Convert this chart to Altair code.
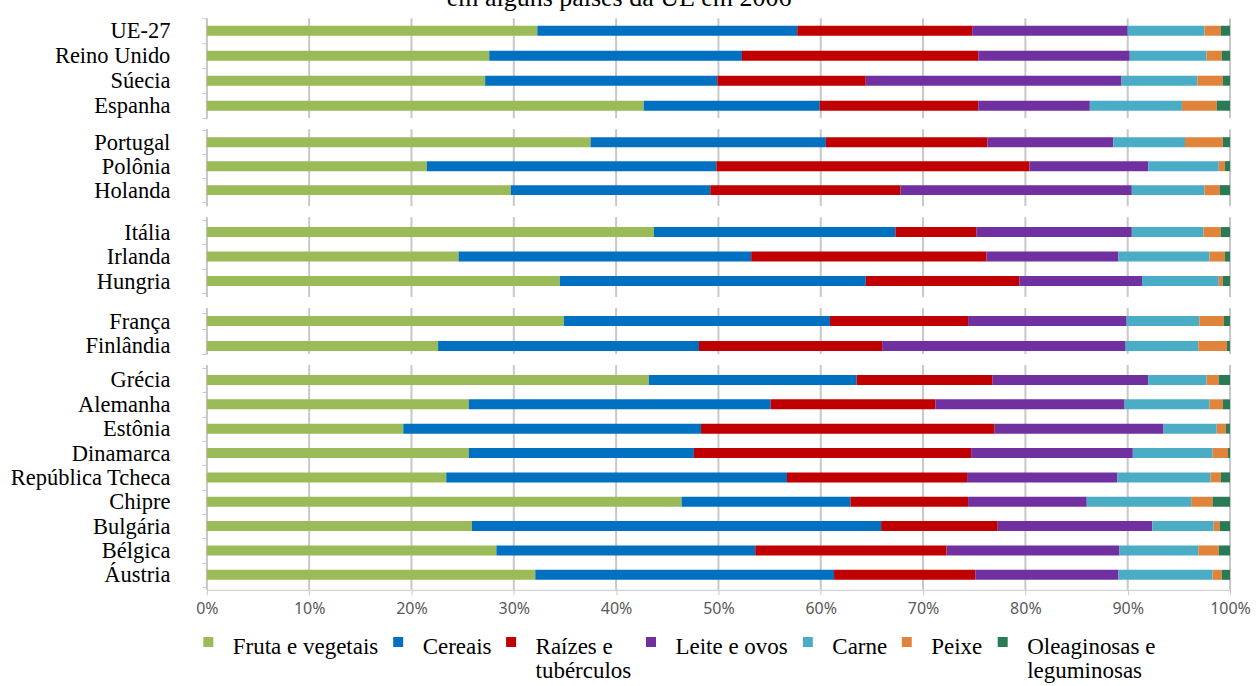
import altair as alt
import pandas as pd

# Countries, in display order, split into the five blocks drawn as separate panels
countries = [
    "UE-27", "Reino Unido", "Súecia", "Espanha",
    "Portugal", "Polônia", "Holanda",
    "Itália", "Irlanda", "Hungria",
    "França", "Finlândia",
    "Grécia", "Alemanha", "Estônia", "Dinamarca", "República Tcheca",
    "Chipre", "Bulgária", "Bélgica", "Áustria",
]
block_sizes = [4, 3, 3, 2, 9]

# Panel heights and band-scale spacing of each block
block_heights = [100, 77, 80, 46, 225]
band_pad_outer = [0, 0.104, 0.133, 0.1, 0.115]
band_pad_inner = [0, 0, 0, 0.36, 0]
band_align = [0.5, 0.2, 0.42, 1.0, 0.5]

categories = [
    "Fruta e vegetais", "Cereais", "Raízes e tubérculos", "Leite e ovos",
    "Carne", "Peixe", "Oleaginosas e leguminosas",
]
colors = ["#9BBB59", "#0070C0", "#C00000", "#7030A0", "#4BACC6", "#E0843C", "#2A7A55"]

# Share (%) of each food group, one value per country in the order above
fruta = [32.3, 27.6, 27.2, 42.7, 37.5, 21.5, 29.7, 43.7, 24.6, 34.5, 34.9, 22.6,
         43.2, 25.6, 19.2, 25.6, 23.4, 46.4, 25.9, 28.3, 32.1]
cereais = [25.4, 24.7, 22.7, 17.2, 23.0, 28.3, 19.5, 23.6, 28.6, 29.9, 26.0, 25.5,
           20.3, 29.5, 29.1, 22.0, 33.3, 16.5, 40.0, 25.3, 29.2]
raizes = [17.1, 23.1, 14.5, 15.5, 15.8, 30.6, 18.6, 7.9, 23.0, 15.0, 13.5, 17.9,
          13.3, 16.1, 28.7, 27.1, 17.6, 11.5, 11.4, 18.7, 13.8]
leite = [15.2, 14.8, 25.0, 10.9, 12.3, 11.6, 22.6, 15.2, 12.9, 12.0, 15.5, 23.8,
         15.2, 18.5, 16.5, 15.8, 14.7, 11.6, 15.1, 16.9, 14.0]
carne = [7.5, 7.5, 7.4, 9.0, 7.0, 6.9, 7.1, 7.0, 8.9, 7.5, 7.1, 7.1,
         5.7, 8.3, 5.2, 7.8, 9.1, 10.2, 6.0, 7.7, 9.2]
peixe = [1.6, 1.5, 2.5, 3.4, 3.7, 0.6, 1.5, 1.7, 1.5, 0.4, 2.4, 2.8,
         1.2, 1.3, 0.9, 1.5, 1.0, 2.1, 0.6, 2.0, 0.9]
oleaginosas = [0.9, 0.8, 0.7, 1.3, 0.7, 0.5, 1.0, 0.9, 0.5, 0.7, 0.6, 0.3,
               1.1, 0.7, 0.4, 0.2, 0.9, 1.7, 1.0, 1.1, 0.8]

series = [fruta, cereais, raizes, leite, carne, peixe, oleaginosas]

# Gridline positions along the share axis
grid_ticks = [i / 10 for i in range(11)]

rows = []
for ci, (cat, vals) in enumerate(zip(categories, series)):
    for country, v in zip(countries, vals):
        rows.append({"country": country, "category": cat, "cat_idx": ci, "share": v})
df = pd.DataFrame(rows)
grid_df = pd.DataFrame({"t": grid_ticks})

SERIF = "Liberation Serif"
GRID = "#c8c8c8"
AXIS = "#c8c8c8"

legend = alt.Legend(
    title=None,
    orient="none",
    legendX=-10,
    legendY=259,
    direction="horizontal",
    columns=7,
    columnPadding=8,
    symbolType="M-1,0.3H1V2.3H-1Z",
    symbolSize=100,
    symbolStrokeWidth=0,
    labelFont=SERIF,
    labelFontSize=23,
    labelColor="#000000",
    labelBaseline="top",
    labelOffset=13,
    labelLimit=400,
    labelExpr=(
        "datum.label == 'Raízes e tubérculos' ? ['Raízes e', 'tubérculos'] : "
        "datum.label == 'Oleaginosas e leguminosas' ? ['Oleaginosas e', 'leguminosas'] : "
        "[datum.label, '']"
    ),
)

x_scale = alt.Scale(domain=[0, 1], nice=False, padding=0)


def block(names, height, p_outer, p_inner, align, last):
    sub = df[df["country"].isin(names)]
    if last:
        x_axis = alt.Axis(
            values=grid_ticks, format=".0%", grid=False, domainColor=AXIS,
            tickColor=AXIS, tickSize=5, labelFont="Noto Sans", labelFontSize=16,
            labelColor="#595959", labelPadding=6, labelFlush=False, title=None,
        )
    else:
        x_axis = None
    y_scale = alt.Scale(paddingInner=p_inner, paddingOuter=p_outer, align=align)

    # vertical gridlines, drawn as thin rects behind the bars
    grid = alt.Chart(grid_df).mark_bar(color=GRID, width=2).encode(
        x=alt.X("t:Q", scale=x_scale, axis=x_axis),
        y=alt.value(0),
        y2=alt.value(height),
    )
    bars = alt.Chart(sub).mark_bar(size=10).encode(
        x=alt.X("share:Q", stack="normalize", scale=x_scale, axis=x_axis),
        y=alt.Y("country:N", sort=names, scale=y_scale,
                axis=alt.Axis(title=None, domainColor=AXIS, tickColor=AXIS, tickSize=5,
                              tickBand="extent", labelFont=SERIF, labelFontSize=22.5,
                              labelColor="#000000", labelPadding=32, grid=False)),
        color=alt.Color("category:N", sort=categories,
                        scale=alt.Scale(domain=categories, range=colors),
                        legend=legend if last else None),
        order=alt.Order("cat_idx:Q"),
    )
    return alt.layer(grid, bars).properties(width=1024, height=height)


panels = []
start = 0
for k, n in enumerate(block_sizes):
    names = countries[start:start + n]
    panels.append(block(names, block_heights[k], band_pad_outer[k], band_pad_inner[k],
                        band_align[k], k == len(block_sizes) - 1))
    start += n

chart = alt.vconcat(*panels, spacing=11, bounds="flush").resolve_legend(
    color="independent"
).properties(
    title=alt.TitleParams(
        "em alguns países da UE em 2006", font=SERIF, fontSize=26, fontWeight="normal",
        color="#000000", anchor="middle", frame="bounds", baseline="alphabetic",
        offset=-25, dx=-11,
    ),
    padding={"left": 9, "top": -15, "right": 5, "bottom": 0},
).configure_view(stroke=None)

chart.save("out.html", embed_options={"renderer": "svg", "actions": False})
